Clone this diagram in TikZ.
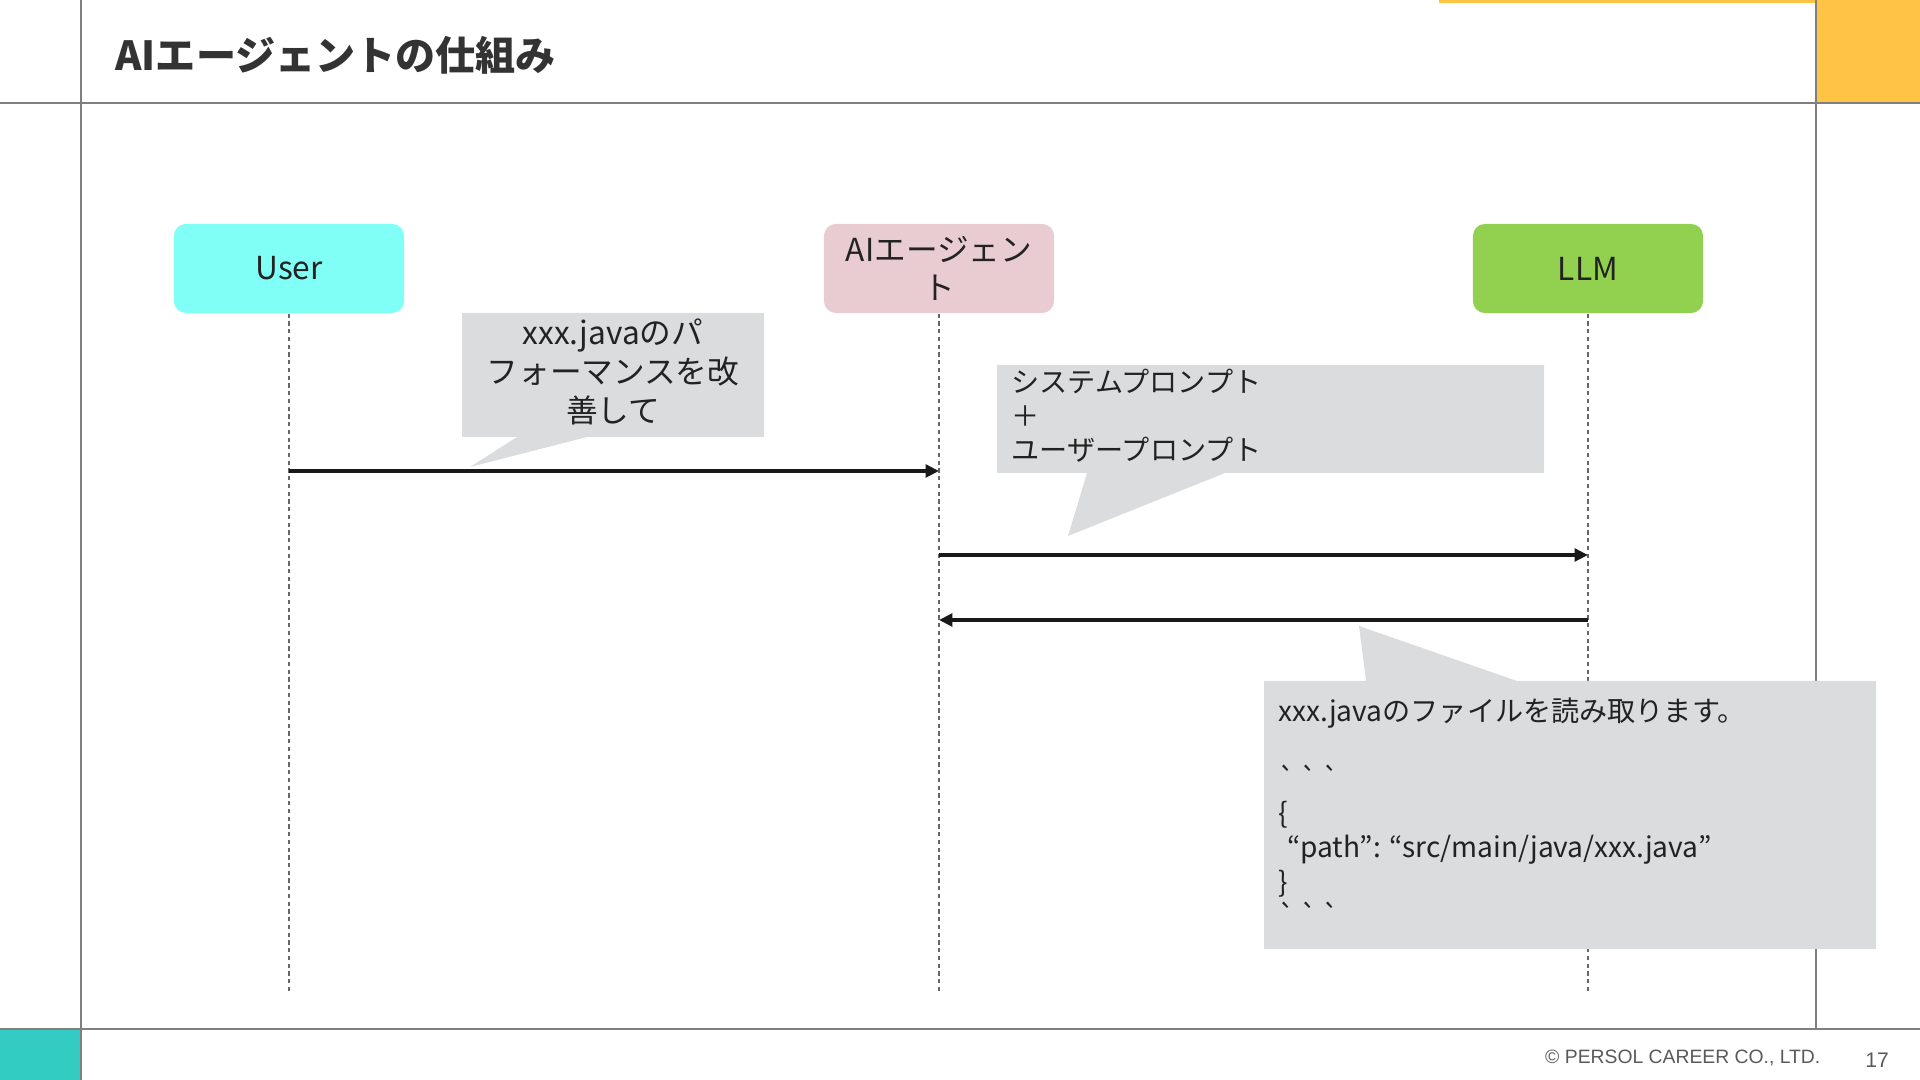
\documentclass[tikz,border=0pt]{standalone}
\usepackage{fontspec}
\setmainfont{Noto Sans CJK JP}
\newfontfamily\footfont{Liberation Sans}
\usetikzlibrary{arrows.meta}
\definecolor{usercyan}{HTML}{80FFF6}
\definecolor{agentpink}{HTML}{E8CCD2}
\definecolor{llmgreen}{HTML}{92D050}
\definecolor{bubblegray}{HTML}{DBDCDE}
\definecolor{barorange}{HTML}{FFC445}
\definecolor{footteal}{HTML}{33CCC2}
\definecolor{framegray}{HTML}{7F7F7F}
\definecolor{titlegray}{HTML}{333333}
\definecolor{textdark}{HTML}{222222}
\definecolor{footgray}{HTML}{595959}

\begin{document}
\begin{tikzpicture}[x=0.01cm, y=-0.01cm,
    actor/.style={rounded corners=3.4pt, minimum width=2.3cm, minimum height=0.89cm,
        inner sep=0pt, align=center, font=\fontsize{9}{10.8}\selectfont, text=textdark},
    lifeline/.style={draw=framegray!80!black, line width=0.4pt, dash pattern=on 1.2pt off 1pt},
    msg/.style={draw=black!90, line width=1pt, -{Triangle[length=3.8pt,width=3.6pt]}},
    bubble/.style={fill=bubblegray},
    frameline/.style={draw=framegray, line width=0.5pt}]

\useasboundingbox (0,0) rectangle (1920,1080);

%Page frame
\fill[barorange] (1816,0) rectangle (1920,103);
\fill[barorange] (1439,0) rectangle (1816,3);
\fill[footteal] (0,1029) rectangle (81,1080);
\draw[frameline] (81,0) -- (81,1080);
\draw[frameline] (0,103) -- (1920,103);
\draw[frameline] (1816,0) -- (1816,1029);
\draw[frameline] (0,1029) -- (1920,1029);

\node[anchor=west, font=\fontsize{11.4}{13}\selectfont\bfseries, text=titlegray] (title) at (103,55) {AIエージェントの仕組み};
\node[anchor=east, inner sep=0pt, font=\footfont\fontsize{5.5}{6}\selectfont, text=footgray] (copy) at (1821,1058) {© PERSOL CAREER CO., LTD.};
\node[inner sep=0pt, font=\footfont\fontsize{6}{7}\selectfont, text=footgray] (page) at (1877,1060) {17};

%Actors
\node[actor, fill=usercyan] (user) at (289,268.5) {User};
\node[actor, fill=agentpink] (agent) at (939,268.5) {AIエージェン\\ト};
\node[actor, fill=llmgreen] (llm) at (1588,268.5) {LLM};

%Lifelines
\coordinate (userEnd) at (289,994);
\coordinate (agentEnd) at (939,994);
\coordinate (llmEnd) at (1588,994);
\draw[lifeline] (user) -- (userEnd);
\draw[lifeline] (agent) -- (agentEnd);
\draw[lifeline] (llm) -- (llmEnd);

%Messages
\coordinate (u1) at (289,471);
\coordinate (a1) at (939,471);
\coordinate (a2) at (939,555);
\coordinate (l2) at (1588,555);
\coordinate (l3) at (1588,620);
\coordinate (a3) at (939,620);
\draw[msg] (u1) -- (a1);
\draw[msg] (a2) -- (l2);
\draw[msg] (l3) -- (a3);

%Callouts
\fill[bubble] (462,313) -- (764,313) -- (764,437) -- (587,437) -- (470,467) -- (517,437) -- (462,437) -- cycle;
\node[font=\fontsize{9}{11}\selectfont, align=center, inner sep=0pt, text=textdark] (ask) at (613,372) {xxx.javaのパ\\フォーマンスを改\\善して};

\fill[bubble] (997,365) -- (1544,365) -- (1544,473) -- (1225,473) -- (1068,536) -- (1087,473) -- (997,473) -- cycle;
\node[font=\fontsize{8}{9.7}\selectfont, align=left, anchor=west, inner sep=0pt, text=textdark] (prompt) at (1011,416) {システムプロンプト\\＋\\ユーザープロンプト};

\fill[bubble] (1264,681) -- (1366,681) -- (1359,626) -- (1517,681) -- (1876,681) -- (1876,949) -- (1264,949) -- cycle;
\node[font=\fontsize{8}{9.7}\selectfont, align=left, anchor=west, inner sep=0pt, text=textdark] (reply) at (1278,812)
    {xxx.javaのファイルを読み取ります。\\ \mbox{}\\
     \textasciigrave\,\textasciigrave\,\textasciigrave\\ \{\\
     \hspace{0.3em}“path”: “src/main/java/xxx.java”\\ \}\\
     \textasciigrave\,\textasciigrave\,\textasciigrave};
\end{tikzpicture}
\end{document}
